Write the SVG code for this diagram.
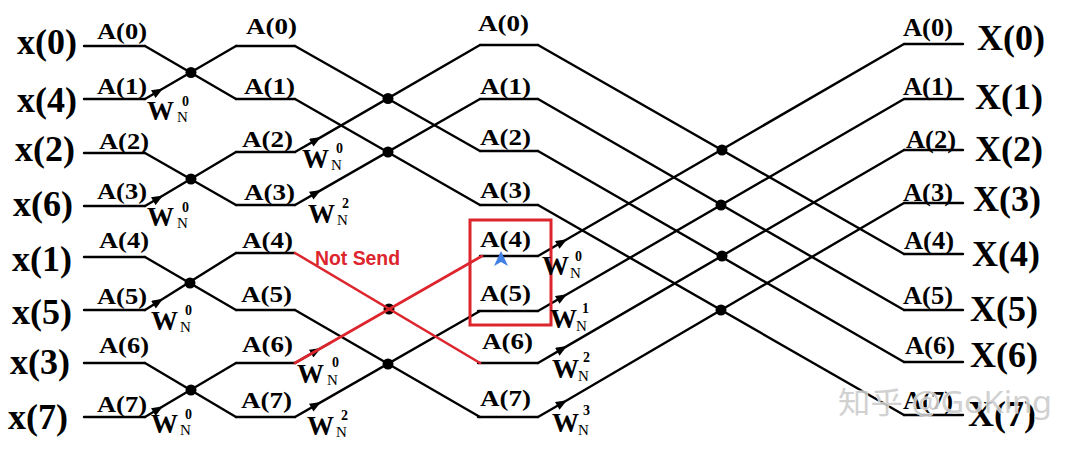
<svg xmlns="http://www.w3.org/2000/svg" width="1080" height="450" viewBox="0 0 1080 450">
<defs>
<marker id="arr" viewBox="0 0 10 8" refX="10" refY="4" markerWidth="12" markerHeight="9" markerUnits="userSpaceOnUse" orient="auto"><path d="M0,0 L10,4 L0,8 Z" fill="#000"/></marker>
<style>
.w{stroke:#000;stroke-width:2.4;fill:none;stroke-linecap:round}
.r{stroke:#dc252d;stroke-width:2.6;fill:none;stroke-linecap:round}
.ar{marker-mid:url(#arr)}
.dot{fill:#000}
.xl{font-family:"Liberation Serif","Times New Roman",serif;font-weight:bold;font-size:36px;fill:#000}
.XL{font-family:"Liberation Serif","Times New Roman",serif;font-weight:bold;font-size:35px;fill:#000}
.al{font-family:"Liberation Serif","Times New Roman",serif;font-weight:bold;font-size:24px;fill:#000}
.ar4{font-family:"Liberation Serif","Times New Roman",serif;font-weight:bold;font-size:25px;fill:#000}
.W{font-family:"Liberation Serif","Times New Roman",serif;font-weight:bold;font-size:27px;fill:#000}
.sup{font-family:"Liberation Serif","Times New Roman",serif;font-weight:bold;font-size:14px;fill:#000}
.sub{font-family:"Liberation Serif","Times New Roman",serif;font-size:15px;fill:#000}
.ns{font-family:"Liberation Sans",Arial,sans-serif;font-weight:bold;font-size:20px;fill:#dc252d}
.wm{font-family:"Noto Sans","Noto Sans CJK SC",sans-serif;font-size:30px;fill:#cdcdcd;stroke:#fff;stroke-width:1;paint-order:stroke;opacity:0.9}
</style>
</defs>

<g id="connectors">
<path class="w" d="M84,46H145 M84,99H145 M84,153H145 M84,206H145 M84,257H145 M84,310H145 M84,363H145 M84,417H145"/>
<path class="w" d="M145,46L236,99 M145,153L236,205 M145,257L236,310 M145,363L236,417"/>
<polyline class="w ar" points="145,99 163,88.5 236,46"/>
<polyline class="w ar" points="145,206 163,195.5 236,152"/>
<polyline class="w ar" points="145,310 163,298.7 236,253"/>
<polyline class="w ar" points="145,417 163,406.3 236,363"/>
<path class="w" d="M236,46H295 M236,99H295 M236,152H295 M236,205H295 M236,253H295 M236,310H295 M236,363H295 M236,417H295"/>
<path class="w" d="M295,46L480,151 M295,99L480,205 M295,310L480,417"/>
<polyline class="w ar" points="295,152 321,137.1 480,45"/>
<polyline class="w ar" points="295,205 321,190.1 480,99"/>
<polyline class="w ar" points="295,417 321,402.1 480,311"/>
<polyline class="w ar" points="295,363 321,348 330,343"/>
<path class="w" d="M480,45H538 M480,99H538 M480,151H538 M480,205H538 M480,256H538 M478,311H538 M478,363H538 M478,417H538"/>
<path class="w" d="M538,45L904,254 M538,99L904,310 M538,151L904,362 M538,205L904,415"/>
<polyline class="w ar" points="538,256 567,239.2 904,44"/>
<polyline class="w ar" points="538,311 567,294.3 904,99"/>
<polyline class="w ar" points="538,363 567,346.1 904,150"/>
<polyline class="w ar" points="538,417 567,400.2 904,203"/>
<path class="w" d="M904,44H963 M904,99H963 M904,150H963 M904,203H963 M904,254H963 M904,310H963 M904,362H963 M904,415H963"/>
</g>

<g id="butterfly-nodes">
<circle class="dot" cx="191" cy="72.5" r="5.5"/>
<circle class="dot" cx="191" cy="179" r="5.5"/>
<circle class="dot" cx="190" cy="283" r="5.5"/>
<circle class="dot" cx="191" cy="390" r="5.5"/>
<circle class="dot" cx="388" cy="98.5" r="5.5"/>
<circle class="dot" cx="388" cy="152" r="5.5"/>
<circle class="dot" cx="389" cy="309" r="5.5"/>
<circle class="dot" cx="388" cy="364" r="5.5"/>
<circle class="dot" cx="722" cy="150" r="5.5"/>
<circle class="dot" cx="721" cy="205" r="5.5"/>
<circle class="dot" cx="722" cy="256" r="5.5"/>
<circle class="dot" cx="721" cy="310" r="5.5"/>
</g>

<g id="not-send">
<path class="r" d="M295,253L480,363 M295,363L482,256"/>
<text class="ns" x="315" y="265" textLength="85" lengthAdjust="spacingAndGlyphs">Not Send</text>
</g>

<g id="highlight-box">
<rect x="470" y="220" width="81" height="105" fill="none" stroke="#dc252d" stroke-width="3"/>
<polygon points="501,251 508,266 501,262 494,266" fill="#3f7fe6"/>
</g>

<g id="inputs">
<text class="xl" x="17" y="54">x(0)</text>
<text class="xl" x="17" y="112">x(4)</text>
<text class="xl" x="15" y="161">x(2)</text>
<text class="xl" x="13" y="216">x(6)</text>
<text class="xl" x="12" y="271">x(1)</text>
<text class="xl" x="12" y="324">x(5)</text>
<text class="xl" x="10" y="374">x(3)</text>
<text class="xl" x="8" y="429">x(7)</text>
</g>

<g id="stage1">
<text class="al" x="97" y="39" textLength="50" lengthAdjust="spacingAndGlyphs">A(0)</text>
<text class="al" x="97" y="94" textLength="50" lengthAdjust="spacingAndGlyphs">A(1)</text>
<text class="al" x="99" y="149" textLength="50" lengthAdjust="spacingAndGlyphs">A(2)</text>
<text class="al" x="97" y="199" textLength="50" lengthAdjust="spacingAndGlyphs">A(3)</text>
<text class="al" x="99" y="248" textLength="50" lengthAdjust="spacingAndGlyphs">A(4)</text>
<text class="al" x="97" y="304" textLength="50" lengthAdjust="spacingAndGlyphs">A(5)</text>
<text class="al" x="99" y="353" textLength="50" lengthAdjust="spacingAndGlyphs">A(6)</text>
<text class="al" x="97" y="412" textLength="50" lengthAdjust="spacingAndGlyphs">A(7)</text>
</g>

<g id="stage2">
<text class="al" x="246" y="34" textLength="51" lengthAdjust="spacingAndGlyphs">A(0)</text>
<text class="al" x="244" y="94" textLength="51" lengthAdjust="spacingAndGlyphs">A(1)</text>
<text class="al" x="242" y="147" textLength="51" lengthAdjust="spacingAndGlyphs">A(2)</text>
<text class="al" x="244" y="200" textLength="51" lengthAdjust="spacingAndGlyphs">A(3)</text>
<text class="al" x="242" y="248" textLength="51" lengthAdjust="spacingAndGlyphs">A(4)</text>
<text class="al" x="241" y="302" textLength="51" lengthAdjust="spacingAndGlyphs">A(5)</text>
<text class="al" x="242" y="352" textLength="51" lengthAdjust="spacingAndGlyphs">A(6)</text>
<text class="al" x="241" y="408" textLength="51" lengthAdjust="spacingAndGlyphs">A(7)</text>
</g>

<g id="stage3">
<text class="al" x="478" y="31" textLength="51" lengthAdjust="spacingAndGlyphs">A(0)</text>
<text class="al" x="480" y="94" textLength="51" lengthAdjust="spacingAndGlyphs">A(1)</text>
<text class="al" x="480" y="145" textLength="51" lengthAdjust="spacingAndGlyphs">A(2)</text>
<text class="al" x="480" y="198" textLength="51" lengthAdjust="spacingAndGlyphs">A(3)</text>
<text class="al" x="480" y="247" textLength="51" lengthAdjust="spacingAndGlyphs">A(4)</text>
<text class="al" x="480" y="301" textLength="51" lengthAdjust="spacingAndGlyphs">A(5)</text>
<text class="al" x="482" y="349" textLength="51" lengthAdjust="spacingAndGlyphs">A(6)</text>
<text class="al" x="480" y="406" textLength="51" lengthAdjust="spacingAndGlyphs">A(7)</text>
</g>

<g id="stage4">
<text class="ar4" x="903" y="36" textLength="50" lengthAdjust="spacingAndGlyphs">A(0)</text>
<text class="ar4" x="903" y="95" textLength="50" lengthAdjust="spacingAndGlyphs">A(1)</text>
<text class="ar4" x="906" y="148" textLength="50" lengthAdjust="spacingAndGlyphs">A(2)</text>
<text class="ar4" x="903" y="201" textLength="50" lengthAdjust="spacingAndGlyphs">A(3)</text>
<text class="ar4" x="904" y="249" textLength="50" lengthAdjust="spacingAndGlyphs">A(4)</text>
<text class="ar4" x="903" y="304" textLength="50" lengthAdjust="spacingAndGlyphs">A(5)</text>
<text class="ar4" x="905" y="354" textLength="50" lengthAdjust="spacingAndGlyphs">A(6)</text>
<text class="ar4" x="903" y="409" textLength="50" lengthAdjust="spacingAndGlyphs">A(7)</text>
</g>

<g id="outputs">
<text class="XL" x="977" y="50" textLength="68" lengthAdjust="spacingAndGlyphs">X(0)</text>
<text class="XL" x="975" y="109" textLength="68" lengthAdjust="spacingAndGlyphs">X(1)</text>
<text class="XL" x="975" y="161" textLength="68" lengthAdjust="spacingAndGlyphs">X(2)</text>
<text class="XL" x="973" y="211" textLength="68" lengthAdjust="spacingAndGlyphs">X(3)</text>
<text class="XL" x="972" y="266" textLength="68" lengthAdjust="spacingAndGlyphs">X(4)</text>
<text class="XL" x="970" y="321" textLength="68" lengthAdjust="spacingAndGlyphs">X(5)</text>
<text class="XL" x="970" y="367" textLength="68" lengthAdjust="spacingAndGlyphs">X(6)</text>
<text class="XL" x="968" y="426" textLength="68" lengthAdjust="spacingAndGlyphs">X(7)</text>
</g>

<g id="twiddles">
<g><text class="W" x="147" y="120">W</text><text class="sub" x="177" y="122">N</text><text class="sup" x="182" y="106">0</text></g>
<g><text class="W" x="147" y="226">W</text><text class="sub" x="177" y="228">N</text><text class="sup" x="182" y="212">0</text></g>
<g><text class="W" x="151" y="330">W</text><text class="sub" x="180" y="332">N</text><text class="sup" x="185" y="315">0</text></g>
<g><text class="W" x="151" y="433">W</text><text class="sub" x="180" y="435">N</text><text class="sup" x="185" y="419">0</text></g>
<g><text class="W" x="302" y="168">W</text><text class="sub" x="331" y="170">N</text><text class="sup" x="336" y="153">0</text></g>
<g><text class="W" x="308" y="223">W</text><text class="sub" x="337" y="225">N</text><text class="sup" x="342" y="208">2</text></g>
<g><text class="W" x="297" y="383">W</text><text class="sub" x="327" y="385">N</text><text class="sup" x="332" y="367">0</text></g>
<g><text class="W" x="307" y="435">W</text><text class="sub" x="336" y="437">N</text><text class="sup" x="341" y="420">2</text></g>
<g><text class="W" x="542" y="275">W</text><text class="sub" x="570" y="278">N</text><text class="sup" x="575" y="261">0</text></g>
<g><text class="W" x="550" y="328">W</text><text class="sub" x="576" y="331">N</text><text class="sup" x="582" y="313">1</text></g>
<g><text class="W" x="552" y="378">W</text><text class="sub" x="578" y="381">N</text><text class="sup" x="583" y="362">2</text></g>
<g><text class="W" x="552" y="432">W</text><text class="sub" x="578" y="435">N</text><text class="sup" x="583" y="415">3</text></g>
</g>

<g id="watermark">
<text class="wm" x="838" y="413" textLength="214" lengthAdjust="spacingAndGlyphs">知乎 @GoKing</text>
</g>
</svg>
